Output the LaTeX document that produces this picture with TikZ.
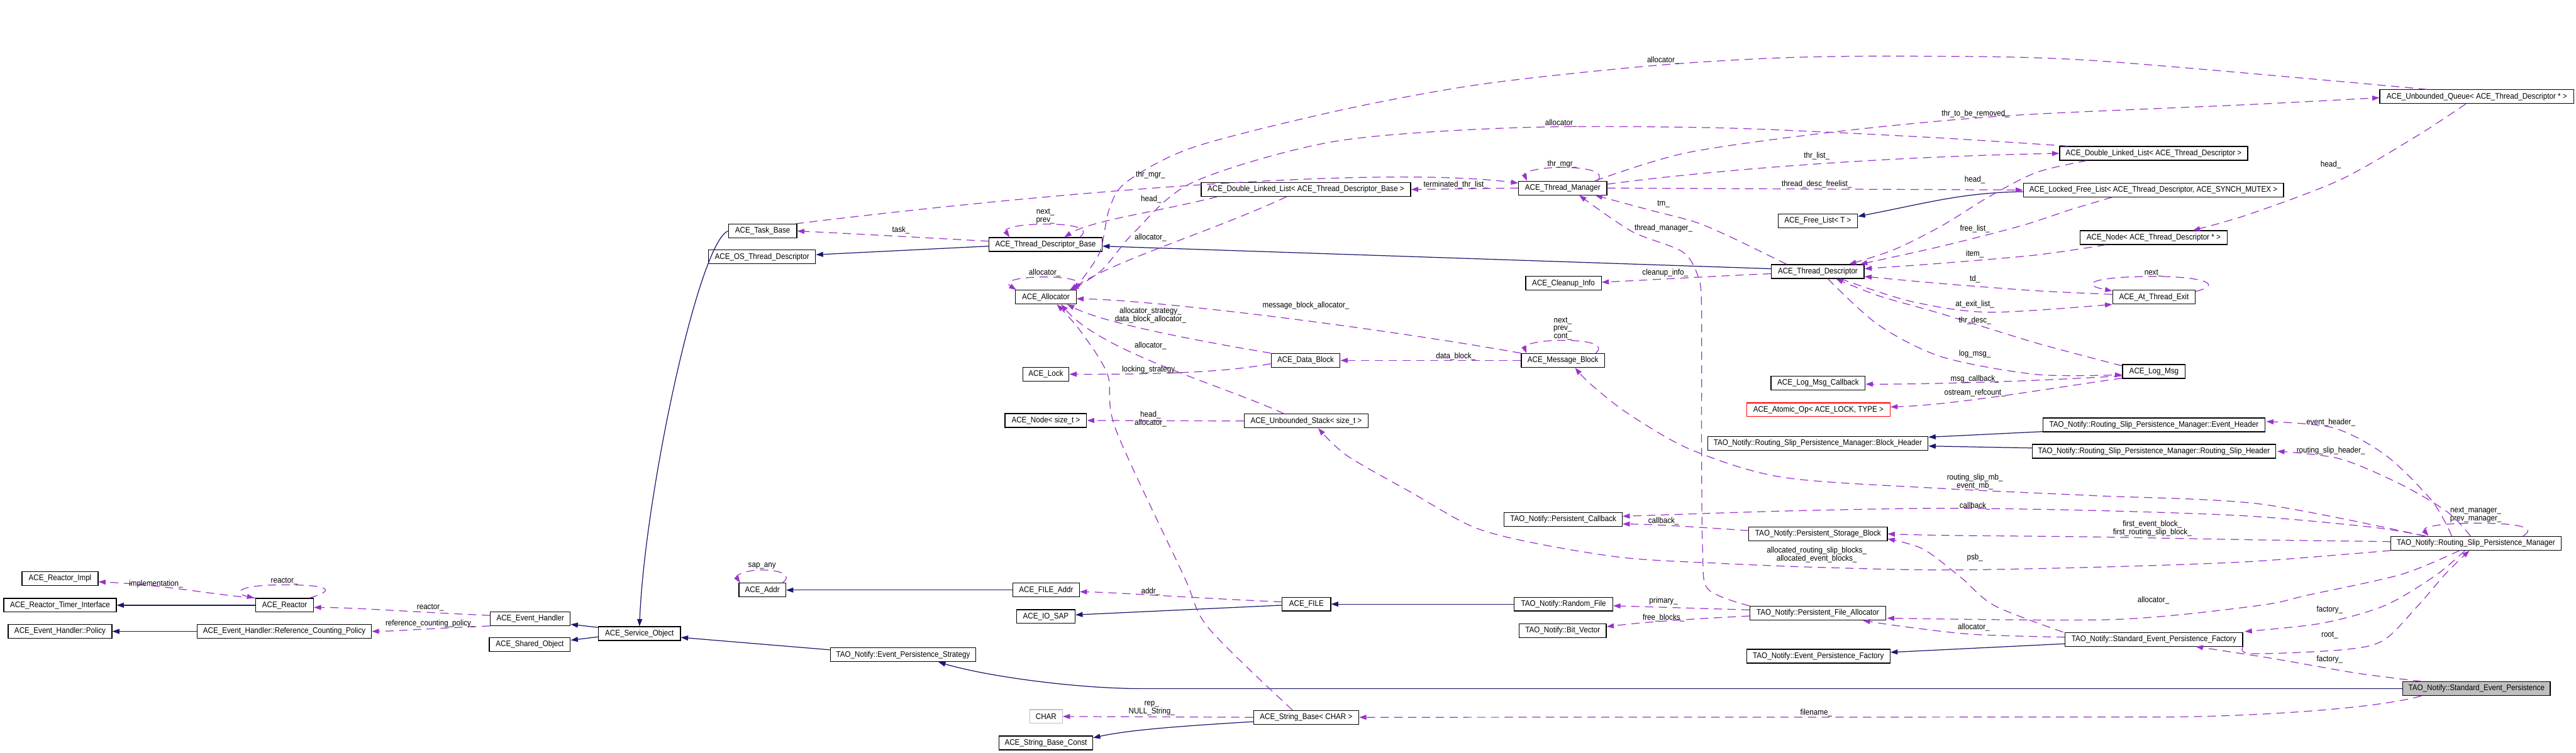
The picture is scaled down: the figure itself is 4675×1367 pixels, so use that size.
\documentclass[tikz,border=0pt]{standalone}
\usepackage{fontspec}
\newfontfamily\df[FakeStretch=0.9]{Liberation Sans}
\usetikzlibrary{calc,arrows.meta}
\definecolor{navyb}{HTML}{191970}
\definecolor{usep}{HTML}{9A32CD}
\definecolor{grayb}{HTML}{BFBFBF}
\tikzset{
 box/.style={draw=black, line width=0.4pt, minimum height=0.25cm, inner sep=0pt, font=\df\fontsize{4.2pt}{4.4pt}\selectfont},
 lbl/.style={inner sep=0pt, align=center, font=\df\fontsize{4.2pt}{4.2pt}\selectfont},
 use/.style={draw=usep, line width=0.4pt, dash pattern=on 1.5mm off 1mm, -{Triangle[length=1.3mm,width=0.9mm]}},
 inh/.style={draw=navyb, line width=0.4pt, -{Triangle[length=1.3mm,width=0.9mm]}},
}
\begin{document}
\begin{tikzpicture}[x=0.01cm,y=-0.01cm]
\fill[white] (0,0) rectangle (4675,1367);
\useasboundingbox (0,0) rectangle (4675,1367);
% nodes
\node[box,minimum width=1.38cm] (reactorimpl) at (109,1050.5) {ACE\_Reactor\_Impl};
\node[box,minimum width=2.04cm] (rti) at (109,1099) {ACE\_Reactor\_Timer\_Interface};
\node[box,minimum width=1.88cm] (policy) at (109,1146.5) {ACE\_Event\_Handler::Policy};
\node[box,minimum width=1.05cm] (reactor) at (516.5,1099) {ACE\_Reactor};
\node[box,minimum width=3.16cm] (rcp) at (516,1146.5) {ACE\_Event\_Handler::Reference\_Counting\_Policy};
\node[box,minimum width=1.45cm] (eh) at (962.5,1123.5) {ACE\_Event\_Handler};
\node[box,minimum width=1.47cm] (sho) at (961.5,1170.5) {ACE\_Shared\_Object};
\node[box,minimum width=1.49cm] (so) at (1160.5,1150.5) {ACE\_Service\_Object};
\node[box,minimum width=1.24cm] (taskbase) at (1384,419.5) {ACE\_Task\_Base};
\node[box,minimum width=1.94cm] (ostd) at (1383,466.5) {ACE\_OS\_Thread\_Descriptor};
\node[box,minimum width=2.05cm] (tdb) at (1897.5,444) {ACE\_Thread\_Descriptor\_Base};
\node[box,minimum width=1.10cm] (alloc) at (1898,539.5) {ACE\_Allocator};
\node[box,minimum width=0.84cm] (lock) at (1898,679.5) {ACE\_Lock};
\node[box,minimum width=1.48cm] (nodesz) at (1898,763.5) {ACE\_Node< size\_t >};
\node[box,minimum width=0.85cm] (addr) at (1383.5,1071.5) {ACE\_Addr};
\node[box,minimum width=1.21cm] (fileaddr) at (1898.5,1071.5) {ACE\_FILE\_Addr};
\node[box,minimum width=1.06cm] (iosap) at (1898,1119.5) {ACE\_IO\_SAP};
\node[box,minimum width=2.64cm] (eps) at (1639,1189) {TAO\_Notify::Event\_Persistence\_Strategy};
\node[box,draw=grayb,minimum width=0.59cm] (chr) at (1898.5,1301) {CHAR};
\node[box,minimum width=1.70cm] (sbc) at (1898,1349) {ACE\_String\_Base\_Const};
\node[box,minimum width=3.80cm] (dlltdb) at (2370,344) {ACE\_Double\_Linked\_List< ACE\_Thread\_Descriptor\_Base >};
\node[box,minimum width=1.25cm] (datablock) at (2369.5,654.5) {ACE\_Data\_Block};
\node[box,minimum width=2.25cm] (ustack) at (2370.5,764.5) {ACE\_Unbounded\_Stack< size\_t >};
\node[box,minimum width=0.88cm] (file) at (2371,1097) {ACE\_FILE};
\node[box,minimum width=1.91cm] (sb) at (2370.5,1302.5) {ACE\_String\_Base< CHAR >};
\node[box,minimum width=1.60cm] (tm) at (2836,341.5) {ACE\_Thread\_Manager};
\node[box,minimum width=1.37cm] (cleanup) at (2837.5,514.5) {ACE\_Cleanup\_Info};
\node[box,minimum width=1.51cm] (mb) at (2836.5,654.5) {ACE\_Message\_Block};
\node[box,minimum width=2.14cm] (pc) at (2837,943.5) {TAO\_Notify::Persistent\_Callback};
\node[box,minimum width=1.79cm] (rf) at (2837.5,1097) {TAO\_Notify::Random\_File};
\node[box,minimum width=1.58cm] (bv) at (2836,1145) {TAO\_Notify::Bit\_Vector};
\node[box,minimum width=1.44cm] (fl) at (3299,401) {ACE\_Free\_List< T >};
\node[box,minimum width=1.68cm] (td) at (3299,493) {ACE\_Thread\_Descriptor};
\node[box,minimum width=1.71cm] (lmc) at (3299.5,695.5) {ACE\_Log\_Msg\_Callback};
\node[box,draw=red,minimum width=2.60cm] (atomic) at (3300,744) {ACE\_Atomic\_Op< ACE\_LOCK, TYPE >};
\node[box,minimum width=4.00cm] (bh) at (3299,805) {TAO\_Notify::Routing\_Slip\_Persistence\_Manager::Block\_Header};
\node[box,minimum width=2.51cm] (psb) at (3299.5,969.5) {TAO\_Notify::Persistent\_Storage\_Block};
\node[box,minimum width=2.46cm] (pfa) at (3299,1113.5) {TAO\_Notify::Persistent\_File\_Allocator};
\node[box,minimum width=2.60cm] (epf) at (3300,1191.5) {TAO\_Notify::Event\_Persistence\_Factory};
\node[box,minimum width=3.41cm] (dlltd) at (3908.5,278.5) {ACE\_Double\_Linked\_List< ACE\_Thread\_Descriptor >};
\node[box,minimum width=4.72cm] (lfl) at (3908,345) {ACE\_Locked\_Free\_List< ACE\_Thread\_Descriptor, ACE\_SYNCH\_MUTEX >};
\node[box,minimum width=2.67cm] (nodetd) at (3908.5,431.5) {ACE\_Node< ACE\_Thread\_Descriptor * >};
\node[box,minimum width=1.50cm] (ate) at (3909,539.5) {ACE\_At\_Thread\_Exit};
\node[box,minimum width=1.14cm] (logmsg) at (3909,674.5) {ACE\_Log\_Msg};
\node[box,minimum width=4.02cm] (evh) at (3909,771.5) {TAO\_Notify::Routing\_Slip\_Persistence\_Manager::Event\_Header};
\node[box,minimum width=4.42cm] (rsh) at (3909,819.5) {TAO\_Notify::Routing\_Slip\_Persistence\_Manager::Routing\_Slip\_Header};
\node[box,minimum width=3.22cm] (sepf) at (3909,1161) {TAO\_Notify::Standard\_Event\_Persistence\_Factory};
\node[box,minimum width=3.52cm] (uq) at (4495,175.5) {ACE\_Unbounded\_Queue< ACE\_Thread\_Descriptor * >};
\node[box,minimum width=3.09cm] (rspm) at (4493.5,986.5) {TAO\_Notify::Routing\_Slip\_Persistence\_Manager};
\node[box,fill=grayb,minimum width=2.67cm] (sep) at (4494.5,1250.5) {TAO\_Notify::Standard\_Event\_Persistence};

% inheritance
\draw[inh] (reactor.west) -- (rti.east);
\draw[inh] (rcp.west) -- (policy.east);
\draw[inh] ($(so.north west)+(0,2)$) -- ($(eh.south east)+(0,-3)$);
\draw[inh] ($(so.west)+(0,6)$) -- ($(sho.east)+(0,-8)$);
\draw[inh] (taskbase.west) .. controls (1268,440) and (1170,900) .. (so.north);
\draw[inh] ($(eps.west)+(0,-9)$) -- ($(so.east)+(0,7)$);
\draw[inh] ($(tdb.west)+(0,3)$) -- ($(ostd.east)+(0,-4)$);
\draw[inh] ($(td.west)+(0,-5)$) -- ($(tdb.east)+(0,3)$);
\draw[inh] ($(lfl.west)+(0,3)$) .. controls (3560,350) and (3500,368) .. ($(fl.east)+(0,-8)$);
\draw[inh] (fileaddr.west) -- (addr.east);
\draw[inh] ($(file.west)+(0,2)$) -- ($(iosap.east)+(0,-3)$);
\draw[inh] (rf.west) -- (file.east);
\draw[inh] ($(sb.west)+(0,8)$) .. controls (2150,1318) and (2050,1325) .. ($(sbc.north east)+(0,4)$);
\draw[inh] ($(evh.south west)+(0,-1)$) -- ($(bh.north east)+(0,2)$);
\draw[inh] ($(rsh.west)+(0,-6)$) -- ($(bh.east)+(0,5)$);
\draw[inh] ($(sepf.west)+(0,8)$) -- ($(epf.east)+(0,-7)$);
\draw[inh] (sep.west) -- (2070,1250.5) .. controls (1950,1250) and (1790,1228) .. ($(eps.south)+(64,0)$);

% usage
\draw[use] (reactor.north west) .. controls (400,1082) and (300,1062) .. ($(reactorimpl.east)+(0,6)$);
\draw[use] ($(reactor.north east)+(-8,0)$) .. controls (610,1072) and (600,1062) .. (516,1062) .. controls (425,1062) and (425,1078) .. ($(reactor.north west)+(-2,0)$);
\draw[use] ($(eh.west)+(0,-6)$) .. controls (760,1112) and (640,1103) .. ($(reactor.east)+(0,4)$);
\draw[use] (eh.south west) .. controls (800,1140) and (720,1146) .. (rcp.east);
\draw[use] ($(addr.north east)+(-7,0)$) .. controls (1440,1044) and (1415,1035) .. (1383,1035) .. controls (1350,1035) and (1335,1046) .. ($(addr.north west)+(3,0)$);
\draw[use] ($(file.west)+(0,-4)$) .. controls (2150,1085) and (2030,1076) .. ($(fileaddr.east)+(0,3)$);
\draw[use] ($(tdb.west)+(0,-6)$) .. controls (1650,430) and (1520,423) .. (taskbase.east);
\draw[use] ($(taskbase.north east)+(-3,0)$) .. controls (1900,350) and (2500,300) .. ($(tm.west)+(0,-9)$);
\draw[use] ($(tdb.north)+(62,0)$) .. controls (1980,415) and (1950,407) .. (1899,407) .. controls (1840,407) and (1822,416) .. ($(tdb.north west)+(38,0)$);
\draw[use] ($(dlltdb.south west)+(30,0)$) .. controls (2100,385) and (1980,400) .. ($(tdb.north)+(34,0)$);
\draw[use] ($(dlltdb.south)+(-35,0)$) .. controls (2200,420) and (2030,470) .. ($(alloc.north east)+(-12,0)$);
\draw[use] ($(alloc.north east)+(-3,0)$) .. controls (1975,512) and (1945,503) .. (1898,503) .. controls (1840,503) and (1822,512) .. ($(alloc.north west)+(2,0)$);
\draw[use] (datablock.north west) .. controls (2150,615) and (2000,585) .. ($(alloc.south east)+(-17,0)$);
\draw[use] (mb.north west) .. controls (2500,595) and (2100,545) .. ($(alloc.east)+(0,3)$);
\draw[use] ($(ustack.north)+(-40,0)$) .. controls (2220,700) and (2000,640) .. ($(alloc.south east)+(-28,0)$);
\draw[use] ($(datablock.west)+(0,6)$) .. controls (2230,675) and (2120,680) .. (lock.east);
\draw[use] (ustack.west) -- (nodesz.east);
\draw[use] plot[smooth] coordinates {($(sb.north)+(-25,0)$) (2193,1140) (2148,1045) (2025,780) (2010,680) (1960,600) ($(alloc.south)+(20,0)$)};
\draw[use] ($(mb.north east)+(-17,0)$) .. controls (2915,625) and (2880,618) .. (2836,618) .. controls (2785,618) and (2765,628) .. ($(mb.north west)+(10,0)$);
\draw[use] (mb.west) -- (datablock.east);
\draw[use] (tm.west) -- (dlltdb.east);
\draw[use] ($(tm.north east)+(-18,0)$) .. controls (2915,312) and (2880,304) .. (2836,304) .. controls (2785,304) and (2765,314) .. ($(tm.north west)+(16,0)$);
\draw[use] ($(tm.east)+(0,-7)$) .. controls (3100,310) and (3400,285) .. (dlltd.west);
\draw[use] plot[smooth] coordinates {($(tm.north east)+(-22,0)$) (3063,277) (3342,238) (3645,210) (4079,190) ($(uq.west)+(0,2)$)};
\draw[use] (tm.east) -- (lfl.west);
\draw[use] plot[smooth] coordinates {($(uq.north west)+(86,0)$) (3800,110) (3476,102) (3233,105) (2991,120) (2688,153) (2433,200) (2167,267) (2045,330) (2013,380) (1995,460) ($(alloc.north east)+(-5,0)$)};
\draw[use] plot[smooth] coordinates {($(dlltd.north west)+(16,0)$) (3476,248) (3112,232) (2748,232) (2421,257) (2167,330) (2060,420) (2000,490) ($(alloc.north east)+(-9,0)$)};
\draw[use] plot[smooth] coordinates {($(dlltd.south west)+(50,0)$) (3696,313) (3610,357) (3524,410) (3438,453) ($(td.north east)+(-28,0)$)};
\draw[use] plot[smooth] coordinates {($(lfl.south west)+(162,0)$) (3760,380) (3668,410) (3524,447) ($(td.north east)+(-8,0)$)};
\draw[use] plot[smooth] coordinates {($(nodetd.south west)+(47,0)$) (3696,463) (3524,478) ($(td.east)+(0,-5)$)};
\draw[use] plot[smooth] coordinates {($(ate.west)+(0,-5)$) (3696,528) (3524,515) ($(td.east)+(0,9)$)};
\draw[use] plot[smooth] coordinates {($(td.south)+(41,0)$) (3467,547) (3610,567) (ate.south west)};
\draw[use] ($(ate.north east)+(0,3)$) .. controls (4040,515) and (3990,502) .. (3910,502) .. controls (3800,502) and (3770,516) .. ($(ate.north west)+(0,2)$);
\draw[use] plot[smooth] coordinates {($(logmsg.north west)+(0,3)$) (3696,623) (3524,570) (3409,537) ($(td.south)+(33,0)$)};
\draw[use] plot[smooth] coordinates {($(td.south)+(18,0)$) (3409,590) (3524,648) (3696,680) ($(logmsg.west)+(0,6)$)};
\draw[use] ($(logmsg.west)+(0,8)$) .. controls (3700,692) and (3500,698) .. ($(lmc.east)+(0,2)$);
\draw[use] ($(logmsg.south west)+(0,-1)$) .. controls (3720,705) and (3550,735) .. ($(atomic.east)+(0,-5)$);
\draw[use] ($(td.west)+(0,4)$) .. controls (3100,502) and (3000,508) .. ($(cleanup.east)+(0,-2)$);
\draw[use] plot[smooth] coordinates {($(td.north west)+(28,0)$) (3140,430) (3076,403) (3000,383) ($(tm.south)+(59,0)$)};
\draw[use] plot[smooth] coordinates {(pfa.north west) (3100,1070) (3090,1000) (3088,800) (3088,560) (3082,503) (3053,457) (2961,420) ($(tm.south)+(30,0)$)};
\draw[use] plot[smooth] coordinates {($(uq.south)+(-20,0)$) (4386,247) (4246,327) (4079,390) ($(nodetd.north east)+(-63,0)$)};
\draw[use] plot[smooth] coordinates {($(rspm.north)+(-44,0)$) (4414,910) (4330,827) (4235,777) ($(evh.east)+(2,-6)$)};
\draw[use] plot[smooth] coordinates {($(rspm.north)+(-10,0)$) (4442,930) (4358,880) (4246,833) ($(rsh.east)+(2,0)$)};
\draw[use] ($(rspm.north east)+(-70,0)$) .. controls (4605,958) and (4570,950) .. (4497,950) .. controls (4420,950) and (4395,958) .. ($(rspm.north west)+(69,0)$);
\draw[use] plot[smooth] coordinates {($(rspm.north west)+(62,0)$) (4100,915) (3800,900) (3524,887) (3237,867) (3070,817) (2956,752) (2886,697) ($(mb.south)+(22,0)$)};
\draw[use] plot[smooth] coordinates {($(rspm.north west)+(64,0)$) (4302,957) (4079,937) (3800,927) (3524,923) (3237,928) ($(pc.east)+(0,-6)$)};
\draw[use] ($(psb.west)+(0,-6)$) .. controls (3080,957) and (3000,952) .. ($(pc.east)+(0,8)$);
\draw[use] plot[smooth] coordinates {($(rspm.west)+(0,-3)$) (4079,980) (3800,975) (3524,972) (psb.east)};
\draw[use] plot[smooth] coordinates {(rspm.south west) (4079,1020) (3800,1030) (3524,1035) (3294,1030) (3122,1023) (2950,1013) (2789,987) (2674,957) (2559,893) (2444,827) ($(ustack.south)+(22,0)$)};
\draw[use] plot[smooth] coordinates {($(sepf.north west)+(-3,0)$) (3620,1100) (3558,1048) (3490,997) ($(psb.east)+(0,9)$)};
\draw[use] plot[smooth] coordinates {($(rspm.south)+(-30,0)$) (4358,1043) (4191,1080) (4096,1100) (3834,1125) ($(pfa.east)+(2,9)$)};
\draw[use] plot[smooth] coordinates {($(rspm.south)+(-20,0)$) (4420,1045) (4327,1100) (4212,1132) ($(sepf.north east)+(3,-1)$)};
\draw[use] plot[smooth] coordinates {(sepf.south east) (4086,1187) (4250,1180) (4325,1163) (4388,1100) (4440,1040) ($(rspm.south)+(-12,0)$)};
\draw[use] plot[smooth] coordinates {($(sep.north west)+(34,0)$) (4275,1222) (4120,1195) ($(sepf.south)+(76,0)$)};
\draw[use] ($(sep.south west)+(34,0)$) .. controls (4300,1290) and (4050,1302) .. (3922,1302) -- (sb.east);
\draw[use] (sb.west) -- (chr.east);
\draw[use] ($(pfa.west)+(0,-6)$) -- ($(rf.east)+(0,3)$);
\draw[use] ($(pfa.west)+(0,5)$) .. controls (3050,1125) and (2980,1130) .. ($(bv.east)+(0,-7)$);
\draw[use] plot[smooth] coordinates {($(sepf.west)+(0,-4)$) (3582,1152) (3456,1138) ($(pfa.south east)+(-42,0)$)};

% labels
\node[lbl] (l1) at (283,1060) {implementation\_};
\node[lbl] (l2) at (516,1055) {reactor\_};
\node[lbl] (l3) at (781,1103) {reactor\_};
\node[lbl] (l4) at (781,1132) {reference\_counting\_policy\_};
\node[lbl] (l5) at (1383,1028) {sap\_any};
\node[lbl] (l6) at (2088,1074) {addr\_};
\node[lbl] (l7) at (1635,418) {task\_};
\node[lbl] (l8) at (2088,317) {thr\_mgr\_};
\node[lbl] (l9) at (1897,393) {next\_\\prev\_};
\node[lbl] (l10) at (2089,362) {head\_};
\node[lbl] (l11) at (2088,431) {allocator\_};
\node[lbl] (l12) at (1896,496) {allocator\_};
\node[lbl] (l13) at (2088,572) {allocator\_strategy\_\\data\_block\_allocator\_};
\node[lbl] (l14) at (2088,628) {allocator\_};
\node[lbl] (l15) at (2088,671) {locking\_strategy\_};
\node[lbl] (l16) at (2088,761) {head\_\\allocator\_};
\node[lbl] (l17) at (2370,555) {message\_block\_allocator\_};
\node[lbl] (l18) at (2642,336) {terminated\_thr\_list\_};
\node[lbl] (l19) at (2835,298) {thr\_mgr\_};
\node[lbl] (l20) at (2642,647) {data\_block\_};
\node[lbl] (l21) at (2836,597) {next\_\\prev\_\\cont\_};
\node[lbl] (l22) at (3297,283) {thr\_list\_};
\node[lbl] (l23) at (3297,334) {thread\_desc\_freelist\_};
\node[lbl] (l24) at (3585,207) {thr\_to\_be\_removed\_};
\node[lbl] (l25) at (3018,110) {allocator\_};
\node[lbl] (l26) at (2833,224) {allocator\_};
\node[lbl] (l27) at (3584,326) {head\_};
\node[lbl] (l28) at (3019,371) {tm\_};
\node[lbl] (l29) at (3019,414) {thread\_manager\_};
\node[lbl] (l30) at (3584,416) {free\_list\_};
\node[lbl] (l31) at (3584,461) {item\_};
\node[lbl] (l32) at (3022,496) {cleanup\_info\_};
\node[lbl] (l33) at (3584,507) {td\_};
\node[lbl] (l34) at (3584,552) {at\_exit\_list\_};
\node[lbl] (l35) at (3584,582) {thr\_desc\_};
\node[lbl] (l36) at (3584,643) {log\_msg\_};
\node[lbl] (l37) at (3584,688) {msg\_callback\_};
\node[lbl] (l38) at (3584,713) {ostream\_refcount\_};
\node[lbl] (l39) at (4230,299) {head\_};
\node[lbl] (l40) at (3908,496) {next\_};
\node[lbl] (l41) at (4230,767) {event\_header\_};
\node[lbl] (l42) at (4230,818) {routing\_slip\_header\_};
\node[lbl] (l43) at (3584,875) {routing\_slip\_mb\_\\event\_mb\_};
\node[lbl] (l44) at (3584,919) {callback\_};
\node[lbl] (l45) at (3019,946) {callback\_};
\node[lbl] (l46) at (4493,935) {next\_manager\_\\prev\_manager\_};
\node[lbl] (l47) at (3906,960) {first\_event\_block\_\\first\_routing\_slip\_block\_};
\node[lbl] (l48) at (3297,1007) {allocated\_routing\_slip\_blocks\_\\allocated\_event\_blocks\_};
\node[lbl] (l49) at (3584,1012) {psb\_};
\node[lbl] (l50) at (3908,1090) {allocator\_};
\node[lbl] (l51) at (3019,1091) {primary\_};
\node[lbl] (l52) at (3019,1122) {free\_blocks\_};
\node[lbl] (l53) at (3582,1139) {allocator\_};
\node[lbl] (l54) at (4228,1107) {factory\_};
\node[lbl] (l55) at (4228,1153) {root\_};
\node[lbl] (l56) at (4228,1198) {factory\_};
\node[lbl] (l57) at (3296,1294) {filename\_};
\node[lbl] (l58) at (2090,1286) {rep\_\\NULL\_String\_};
\end{tikzpicture}
\end{document}
